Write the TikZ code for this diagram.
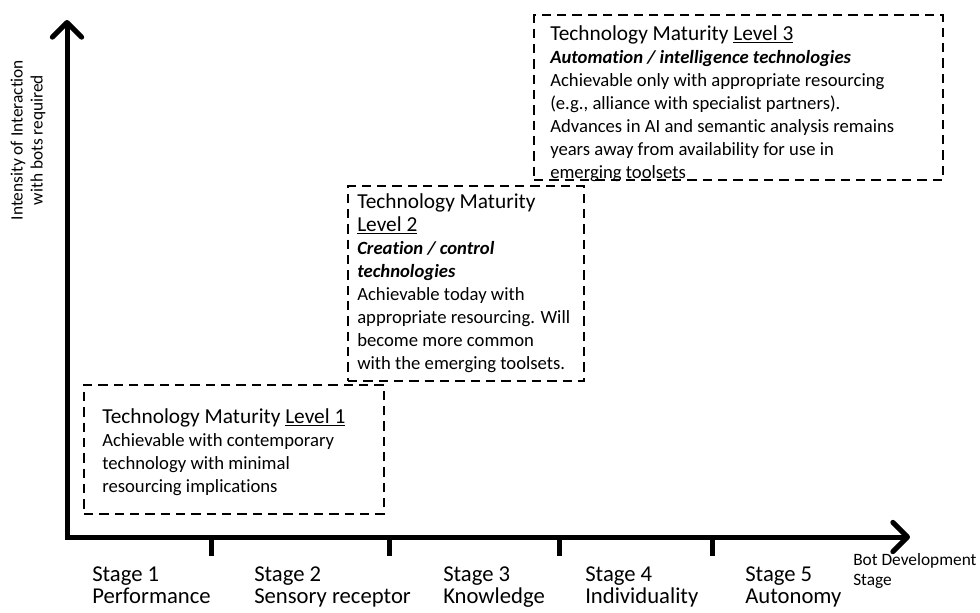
\documentclass[tikz,border=0pt]{standalone}
\usepackage{fontspec}
\setmainfont{Carlito}[Ligatures=NoCommon]
\usetikzlibrary{arrows.meta}
\begin{document}
\begin{tikzpicture}[x=0.75pt,y=-0.75pt,
  barb/.tip={Straight Barb[length=11pt,width=22pt,round]},
  axis/.style={line width=3.75pt, line cap=round, line join=miter, barb-barb},
  tick/.style={line width=3.75pt},
  box/.style={draw, line width=2.2pt, dash pattern=on 7pt off 4.5pt, rectangle, inner sep=0pt, outer sep=0pt},
  boxtext/.style={anchor=north west, inner sep=0pt, align=left, font=\fontsize{14}{17.3}\selectfont},
  stagelbl/.style={anchor=north west, inner sep=0pt, align=left, font=\fontsize{17}{16.5}\selectfont},
  smalllbl/.style={inner sep=0pt, align=left, font=\fontsize{13}{15}\selectfont}]
\useasboundingbox[fill=white] (0,0) rectangle (980,612);

% axes
\coordinate (origin) at (67,537);
\coordinate (ytip) at (67,20);
\coordinate (xtip) at (910,537);
\draw[axis] (ytip) -- (origin) -- (xtip);

% ticks
\foreach \n/\xx in {1/211,2/389,3/559,4/712}{
  \coordinate (t\n a) at (\xx,537);
  \coordinate (t\n b) at (\xx,556);
  \draw[tick] (t\n a) -- (t\n b);
}

% axis labels
\node[smalllbl, align=center, rotate=90, font=\fontsize{13}{15}\selectfont] (ylab) at (28,140)
  {Intensity of Interaction\\with bots required};
\node[smalllbl, anchor=north west] (xlab) at (853,553) {Bot Development\\Stage};

% stage labels
\node[stagelbl] (s1) at (92,567) {Stage 1\\Performance};
\node[stagelbl] (s2) at (254,567) {Stage 2\\Sensory receptor};
\node[stagelbl] (s3) at (443,567) {Stage 3\\Knowledge};
\node[stagelbl] (s4) at (585,567) {Stage 4\\Individuality};
\node[stagelbl] (s5) at (745,567) {Stage 5\\Autonomy};

% boxes
\node[box, minimum width=225pt, minimum height=96.75pt] (box1) at (234,449.5) {};
\node[box, minimum width=177pt, minimum height=146.25pt] (box2) at (466,283.5) {};
\node[box, minimum width=306.75pt, minimum height=123.75pt] (box3) at (738.5,97.5) {};

% box texts
\node[boxtext] (txt1) at (102,408)
  {{\fontsize{16}{17}\selectfont Technology Maturity \underline{Level 1}}\\
   Achievable with contemporary\\
   technology with minimal\\
   resourcing implications};
\node[boxtext] (txt2) at (357,193)
  {{\fontsize{16}{17}\selectfont Technology Maturity}\\
   {\fontsize{16}{17}\selectfont\underline{Level 2}}\\
   \textbf{\textit{Creation / control}}\\
   \textbf{\textit{technologies}}\\
   Achievable today with\\
   appropriate resourcing. Will\\
   become more common\\
   with the emerging toolsets.};
\node[boxtext] (txt3) at (550,25)
  {{\fontsize{16}{17}\selectfont Technology Maturity \underline{Level 3}}\\
   \textbf{\textit{Automation / intelligence technologies}}\\
   Achievable only with appropriate resourcing\\
   (e.g., alliance with specialist partners).\\
   Advances in AI and semantic analysis remains\\
   years away from availability for use in\\
   emerging toolsets};
\end{tikzpicture}
\end{document}
